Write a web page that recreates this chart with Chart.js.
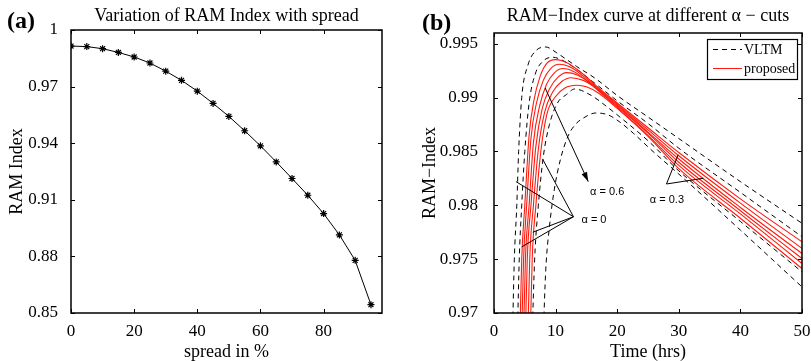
<!DOCTYPE html>
<html>
<head>
<meta charset="utf-8">
<script src="https://cdn.jsdelivr.net/npm/chart.js@4"></script>
<style>
  body { margin: 0; background: #fff; }
  #wrap { position: relative; width: 811px; height: 361px; }
  canvas { position: absolute; top: 0; }
</style>
</head>
<body>
<div id="wrap">
  <canvas id="chartA" width="405" height="361" style="left:0"></canvas>
  <canvas id="chartB" width="406" height="361" style="left:405px"></canvas>
</div>
<script>
// ---- panel (a) ----
const spreadPct = [0, 5, 10, 15, 20, 25, 30, 35, 40, 45, 50, 55, 60, 65, 70, 75, 80, 85, 90, 95];
const ramIndex = [0.9915, 0.9912, 0.9901, 0.9881, 0.9857, 0.9825, 0.9782, 0.9733, 0.9676, 0.9611,
                  0.9542, 0.9466, 0.9386, 0.9301, 0.9213, 0.9124, 0.9027, 0.8914, 0.8779, 0.8544];
const spreadTicks = [0, 20, 40, 60, 80];
const ramTicks = [0.85, 0.88, 0.91, 0.94, 0.97, 1];

// ---- panel (b) ---- [time (hrs), RAM-Index]
const timeTicks = [0, 10, 20, 30, 40, 50];
const ramIdxTicks = [0.97, 0.975, 0.98, 0.985, 0.99, 0.995];

// VLTM, dashed
const vltmA0Upper = [[3.0,0.968],[3.3,0.975],[3.7,0.980],[4.0,0.985],[4.5,0.990],[5.5,0.9930],[6.7,0.9943],[8.4,0.9947],[10.2,0.99415],[11.8,0.99353],[13.4,0.9929],[16.4,0.9918],[20,0.9902],[25,0.9882],[30,0.9862],[40,0.9822],[50,0.97833]];
const vltmA3Upper = [[3.8,0.968],[4.1,0.975],[4.5,0.980],[5.0,0.985],[5.7,0.9895],[6.7,0.9922],[8.0,0.9934],[9.5,0.99375],[11,0.9935],[13,0.9928],[16,0.9915],[20,0.9897],[25,0.9876],[30,0.9853],[40,0.9812],[50,0.97708]];
const vltmA3Lower = [[6.2,0.968],[6.6,0.975],[7.2,0.980],[8.0,0.9845],[9.0,0.9875],[10.3,0.9895],[11.8,0.9903],[13.1,0.9908],[15.8,0.9902],[18,0.9893],[20,0.9884],[25,0.9860],[30,0.9832],[40,0.9785],[50,0.97382]];
const vltmA0Lower = [[8.0,0.968],[8.4,0.974],[9.0,0.978],[9.8,0.9815],[10.8,0.9843],[12,0.9864],[13.2,0.9875],[14.5,0.9881],[16.5,0.98857],[18.5,0.9884],[20.5,0.9877],[22.6,0.9867],[26,0.9849],[30,0.9829],[40,0.9777],[50,0.97242]];

// proposed, red
const propCurve1 = [[4.2,0.968],[4.5,0.975],[5.0,0.980],[5.7,0.9865],[6.5,0.9898],[7.5,0.9920],[8.6,0.9932],[10,0.99353],[12,0.9932],[14,0.9924],[17,0.9909],[20,0.9895],[25,0.9872],[30,0.9849],[40,0.9806],[50,0.97661]];
const propCurve2 = [[4.5,0.968],[4.8,0.975],[5.3,0.980],[6.0,0.9862],[6.9,0.9895],[8.0,0.9916],[9.2,0.9927],[10.6,0.9931],[12.5,0.9928],[14.5,0.9920],[17,0.9908],[20,0.9894],[25,0.9870],[30,0.9846],[40,0.9802],[50,0.97600]];
const propCurve3 = [[4.8,0.968],[5.1,0.975],[5.7,0.980],[6.4,0.9858],[7.4,0.9892],[8.5,0.9912],[9.8,0.9923],[11.2,0.9927],[13,0.9924],[15,0.9916],[17,0.9907],[20,0.9893],[25,0.9868],[30,0.9843],[40,0.9798],[50,0.97553]];
const propCurve4 = [[5.1,0.968],[5.4,0.975],[6.0,0.980],[6.8,0.9855],[7.8,0.9889],[9.0,0.9908],[10.4,0.9919],[11.8,0.99232],[13.5,0.9921],[15.5,0.9914],[17,0.9906],[20,0.9892],[25,0.9867],[30,0.9840],[40,0.9795],[50,0.97506]];
const propCurve5 = [[5.5,0.968],[5.8,0.975],[6.4,0.980],[7.2,0.9852],[8.2,0.9886],[9.5,0.9905],[11,0.9915],[12.5,0.99185],[14.5,0.9916],[16,0.9911],[17.5,0.9904],[20,0.9891],[25,0.9865],[30,0.9837],[40,0.9792],[50,0.97460]];
const propCurve6 = [[5.9,0.968],[6.2,0.975],[6.8,0.980],[7.6,0.985],[8.6,0.9885],[10,0.9901],[11.5,0.9909],[13.5,0.99115],[15,0.9910],[17,0.9904],[20,0.9890],[25,0.9864],[30,0.9834],[40,0.9788],[50,0.97413]];

const SERIF = '"Liberation Serif", "Times New Roman", serif';
const SANS = '"Liberation Sans", Arial, sans-serif';

const toXY = pts => pts.map(p => ({ x: p[0], y: p[1] }));

function text(ctx, str, x, y, font, align, base, rot) {
  ctx.save();
  ctx.font = font;
  ctx.fillStyle = '#000';
  ctx.textAlign = align || 'left';
  ctx.textBaseline = base || 'alphabetic';
  ctx.translate(x, y);
  if (rot) ctx.rotate(rot);
  ctx.fillText(str, 0, 0);
  ctx.restore();
}

// matlab style box with inward ticks
function boxPlugin(xTicks, yTicks) {
  return {
    id: 'box',
    afterDatasetsDraw(chart) {
      const { ctx, chartArea: a, scales: { x, y } } = chart;
      ctx.save();
      ctx.strokeStyle = '#000';
      ctx.lineWidth = 1;
      ctx.beginPath();
      xTicks.forEach(v => {
        const px = Math.round(x.getPixelForValue(v)) + 0.5;
        ctx.moveTo(px, a.bottom); ctx.lineTo(px, a.bottom - 4);
        ctx.moveTo(px, a.top); ctx.lineTo(px, a.top + 4);
      });
      yTicks.forEach(v => {
        const py = Math.round(y.getPixelForValue(v)) + 0.5;
        ctx.moveTo(a.left, py); ctx.lineTo(a.left + 4, py);
        ctx.moveTo(a.right, py); ctx.lineTo(a.right - 4, py);
      });
      ctx.stroke();
      ctx.lineWidth = 1.5;
      ctx.strokeRect(a.left, a.top, a.right - a.left, a.bottom - a.top);
      ctx.restore();
    }
  };
}

function axisOpts(min, max, ticks, pad, fit) {
  return {
    type: 'linear',
    min: min,
    max: max,
    grid: { display: false },
    border: { display: false },
    afterBuildTicks: s => { s.ticks = ticks.map(v => ({ value: v })); },
    afterFit: fit,
    ticks: {
      color: '#000',
      font: { family: SERIF, size: 17 },
      padding: pad,
      maxRotation: 0,
      autoSkip: false,
      callback: v => String(v)
    }
  };
}

// ---- chart (a) ----
new Chart(document.getElementById('chartA'), {
  type: 'line',
  data: {
    datasets: [{
      data: spreadPct.map((s, i) => ({ x: s, y: ramIndex[i] })),
      borderColor: '#000',
      borderWidth: 1,
      pointStyle: 'star',
      pointRadius: 3.5,
      pointBorderColor: '#000',
      pointBorderWidth: 1.2,
      tension: 0
    }]
  },
  options: {
    responsive: false,
    animation: false,
    devicePixelRatio: 1,
    layout: { padding: { top: 30, right: 23, left: 0, bottom: 0 } },
    plugins: { legend: { display: false }, tooltip: { enabled: false } },
    scales: {
      x: axisOpts(0, 98.5, spreadTicks, 0, s => { s.height = 48; }),
      y: axisOpts(0.85, 1, ramTicks, 5, s => { s.width = 71; })
    }
  },
  plugins: [boxPlugin(spreadTicks, ramTicks), {
    id: 'labelsA',
    afterDraw(chart) {
      const { ctx, chartArea: a } = chart;
      const cx = (a.left + a.right) / 2;
      text(ctx, '(a)', 7, 28, 'bold 24px ' + SERIF);
      text(ctx, 'Variation of RAM Index with spread', cx, 21, '18px ' + SERIF, 'center');
      text(ctx, 'RAM Index', 17, (a.top + a.bottom) / 2, '18px ' + SERIF, 'center', 'middle', -Math.PI / 2);
      text(ctx, 'spread in %', cx, 357, '18px ' + SERIF, 'center');
    }
  }]
});

// ---- chart (b) ----
const vltmCurves = [vltmA0Upper, vltmA3Upper, vltmA3Lower, vltmA0Lower];
const propCurves = [propCurve1, propCurve2, propCurve3, propCurve4, propCurve5, propCurve6];

const datasetsB = propCurves.map(c => ({
  data: toXY(c), borderColor: '#ff1a0d', borderWidth: 1.1, pointRadius: 0,
  cubicInterpolationMode: 'monotone'
})).concat(vltmCurves.map(c => ({
  data: toXY(c), borderColor: '#000', borderWidth: 1, borderDash: [5, 4], pointRadius: 0,
  cubicInterpolationMode: 'monotone'
})));

// annotation pointers in data units
const alpha06Arrow = [[8.3, 0.99089], [15.3, 0.9822]];
const alpha0Hub = [12.9, 0.97894];
const alpha0Ends = [[3.57, 0.9822], [7.9, 0.98428], [4.5, 0.97614], [6.3, 0.9775]];
const alpha03Hub = [28.0, 0.98198];
const alpha03Ends = [[29.9, 0.98469], [34.0, 0.98251]];

new Chart(document.getElementById('chartB'), {
  type: 'line',
  data: { datasets: datasetsB },
  options: {
    responsive: false,
    animation: false,
    devicePixelRatio: 1,
    layout: { padding: { top: 33, right: 9, left: 0, bottom: 0 } },
    plugins: { legend: { display: false }, tooltip: { enabled: false } },
    scales: {
      x: axisOpts(0, 50, timeTicks, 0, s => { s.height = 48; }),
      y: axisOpts(0.97, 0.996, ramIdxTicks, 8, s => { s.width = 89; })
    }
  },
  plugins: [boxPlugin(timeTicks, ramIdxTicks), {
    id: 'labelsB',
    afterDraw(chart) {
      const { ctx, chartArea: a, scales: { x, y } } = chart;
      const P = p => [x.getPixelForValue(p[0]), y.getPixelForValue(p[1])];
      const cx = (a.left + a.right) / 2;
      text(ctx, '(b)', 17, 30, 'bold 24px ' + SERIF);
      text(ctx, 'RAM\u2212Index curve at different \u03b1 \u2212 cuts', cx, 21, '18px ' + SERIF, 'center');
      text(ctx, 'RAM\u2212Index', 25, (a.top + a.bottom) / 2, '18px ' + SERIF, 'center', 'middle', -Math.PI / 2);
      text(ctx, 'Time (hrs)', cx, 357, '18px ' + SERIF, 'center');

      ctx.save();
      ctx.strokeStyle = '#000';
      ctx.fillStyle = '#000';
      ctx.lineWidth = 1;
      // alpha = 0.6 arrow
      const s = P(alpha06Arrow[0]), e = P(alpha06Arrow[1]);
      ctx.beginPath(); ctx.moveTo(s[0], s[1]); ctx.lineTo(e[0], e[1]); ctx.stroke();
      const ang = Math.atan2(e[1] - s[1], e[0] - s[0]);
      ctx.beginPath();
      ctx.moveTo(e[0], e[1]);
      ctx.lineTo(e[0] - 10 * Math.cos(ang - 0.3), e[1] - 10 * Math.sin(ang - 0.3));
      ctx.lineTo(e[0] - 10 * Math.cos(ang + 0.3), e[1] - 10 * Math.sin(ang + 0.3));
      ctx.closePath(); ctx.fill();
      // alpha = 0 and 0.3 pointers
      const h0 = P(alpha0Hub);
      ctx.beginPath();
      alpha0Ends.forEach(p => { const q = P(p); ctx.moveTo(h0[0], h0[1]); ctx.lineTo(q[0], q[1]); });
      const h3 = P(alpha03Hub);
      alpha03Ends.forEach(p => { const q = P(p); ctx.moveTo(h3[0], h3[1]); ctx.lineTo(q[0], q[1]); });
      ctx.stroke();
      ctx.restore();

      let t = P([15.6, 0.98127]);
      text(ctx, '\u03b1 = 0.6', t[0], t[1], '11px ' + SANS, 'left', 'middle');
      t = P([14.2, 0.97863]);
      text(ctx, '\u03b1 = 0', t[0], t[1], '11px ' + SANS, 'left', 'middle');
      t = P([25.3, 0.98049]);
      text(ctx, '\u03b1 = 0.3', t[0], t[1], '11px ' + SANS, 'left', 'middle');

      // legend box
      const lx = a.right - 95, ly = a.top + 6;
      ctx.save();
      ctx.fillStyle = '#fff';
      ctx.fillRect(lx, ly, 90, 40);
      ctx.strokeStyle = '#000';
      ctx.lineWidth = 1.2;
      ctx.strokeRect(lx + 0.5, ly + 0.5, 90, 40);
      ctx.lineWidth = 1;
      ctx.setLineDash([5, 4]);
      ctx.beginPath(); ctx.moveTo(lx + 6, ly + 10.5); ctx.lineTo(lx + 35, ly + 10.5); ctx.stroke();
      ctx.setLineDash([]);
      ctx.strokeStyle = '#ff1a0d';
      ctx.beginPath(); ctx.moveTo(lx + 6, ly + 29.5); ctx.lineTo(lx + 35, ly + 29.5); ctx.stroke();
      ctx.restore();
      text(ctx, 'VLTM', lx + 37, ly + 11, '14px ' + SERIF, 'left', 'middle');
      text(ctx, 'proposed', lx + 37, ly + 30, '14px ' + SERIF, 'left', 'middle');
    }
  }]
});
</script>
</body>
</html>
